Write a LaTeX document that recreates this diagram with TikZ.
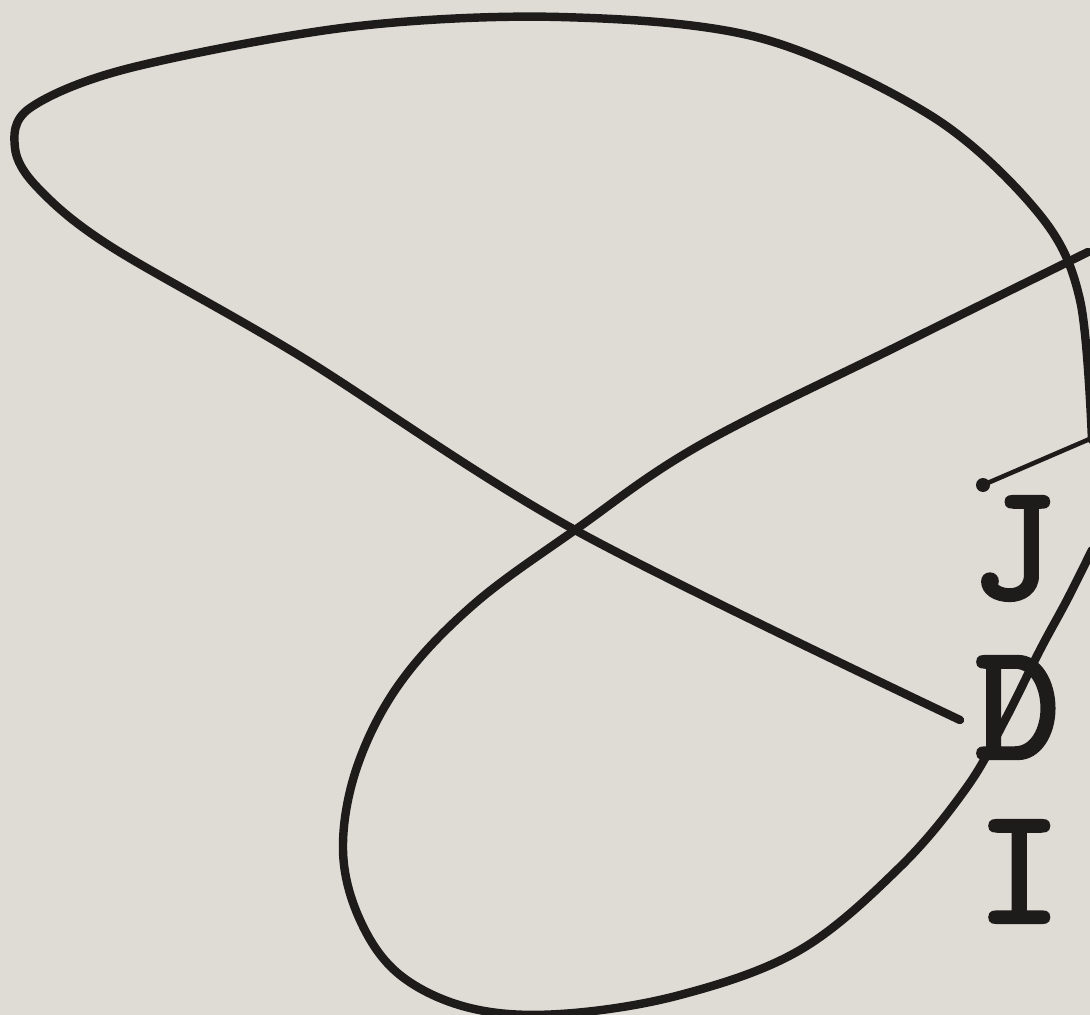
\documentclass[tikz,border=0pt]{standalone}
\usepackage{fontspec}
\newfontfamily\etichetta[FakeBold=2.6]{Latin Modern Mono}
\definecolor{carta}{HTML}{DFDCD6}
\definecolor{inchiostro}{HTML}{1E1C1B}
\tikzset{
  curva/.style={draw=inchiostro, line width=2.4pt, line cap=round, line join=round},
  guida/.style={draw=inchiostro, line width=1.3pt, line cap=round},
  lettera/.style={inner sep=0pt, anchor=base west, text=inchiostro,
    font=\etichetta\fontsize{47}{50}\selectfont}
}
\begin{document}
\begin{tikzpicture}[x=0.01cm, y=-0.01cm]
  \fill[carta] (0,0) rectangle (1090,1015);
  \useasboundingbox (0,0) rectangle (1090,1015);
  \clip (0,0) rectangle (1090,1015);

  % RAMO SUPERIORE
  \draw[curva] plot[smooth, tension=0.55] coordinates {
    (960,720) (575,530) (300,356) (110,246) (38,188)
    (15,148) (30,108) (130,68) (350,27) (560,17)
    (760,38) (933,117) (1040,215) (1080,300) (1092,440)};

  % RAMO INFERIORE
  \draw[curva] plot[smooth, tension=0.6] coordinates {
    (1088,252) (900,345) (700,445) (575,530) (473,605) (400,683)
    (357,767) (343,850) (360,920) (400,975) (470,1008) (560,1014)
    (680,995) (800,950) (900,867) (967,787) (1005,720) (1040,650)
    (1067,600) (1092,550)};

  % ETICHETTE
  \coordinate (pJ) at (1092,438);
  \fill[inchiostro] (983,485) circle (7) coordinate (dJ);
  \draw[guida] (dJ) -- (pJ);
  \node[lettera] (lJ) at (970,598) {J};
  \node[lettera] (lD) at (974,758) {D};
  \node[lettera] (lI) at (976,922) {I};
\end{tikzpicture}
\end{document}
